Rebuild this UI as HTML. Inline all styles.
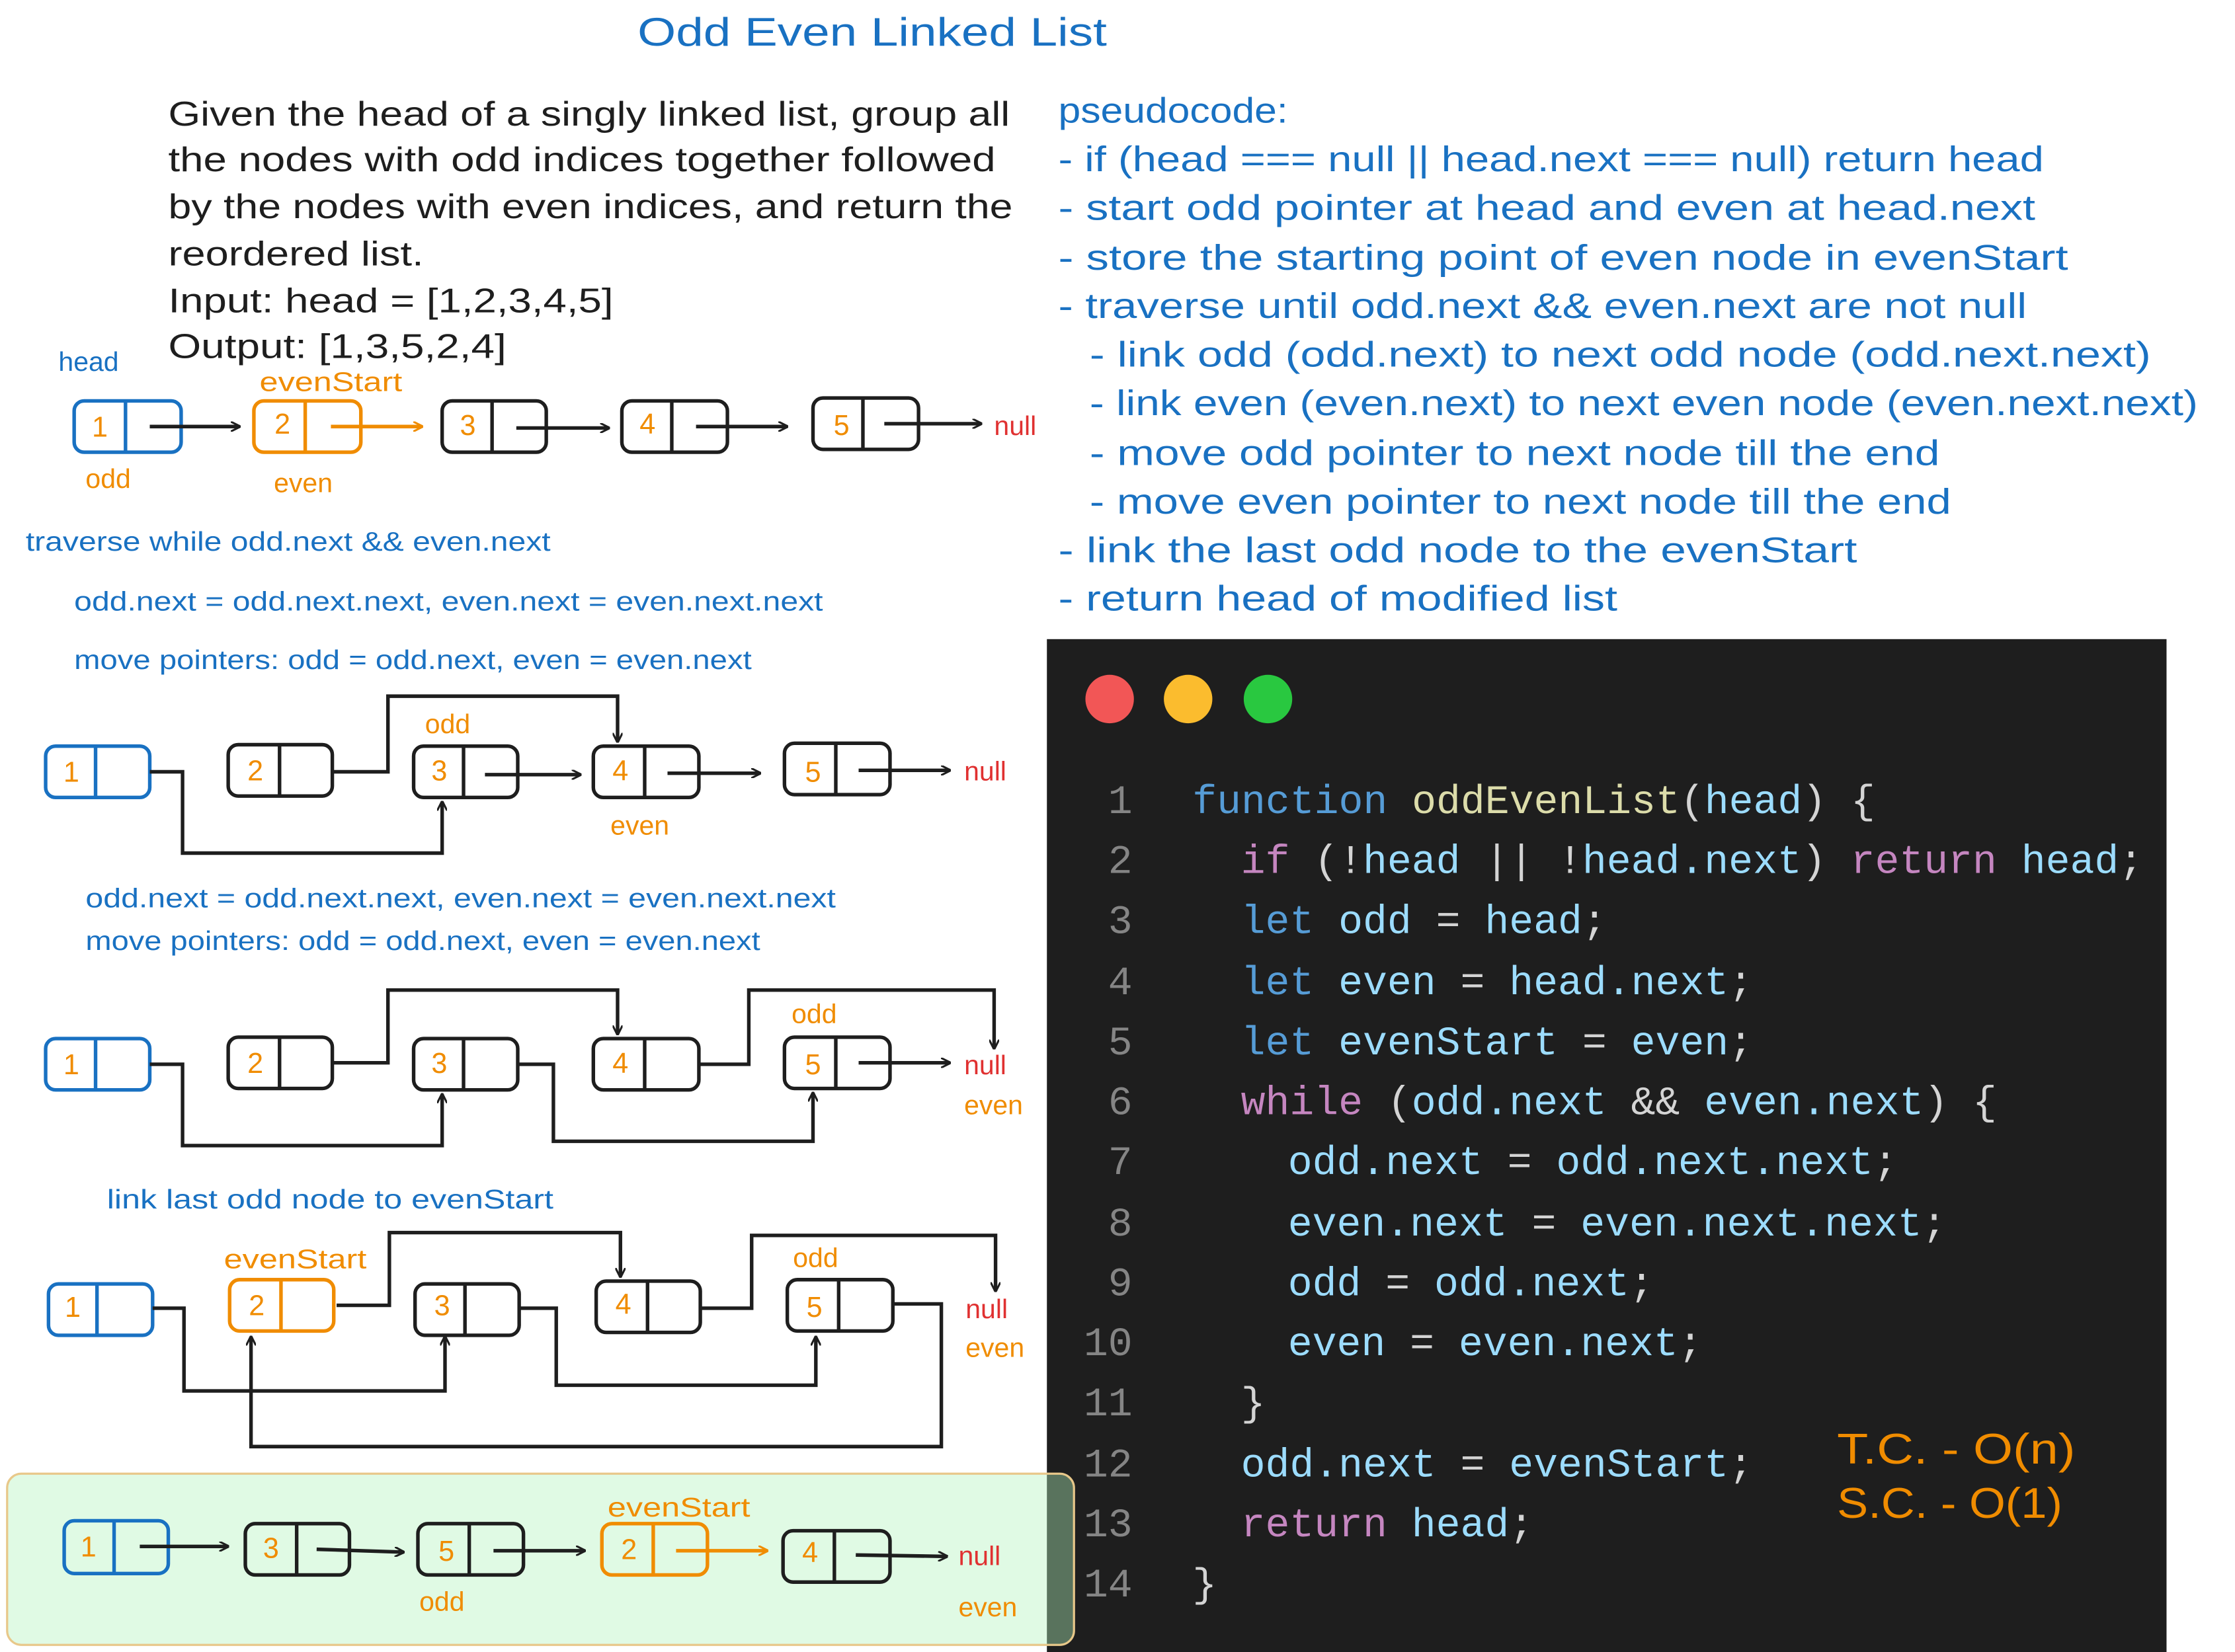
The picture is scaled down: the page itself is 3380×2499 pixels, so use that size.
<!DOCTYPE html>
<html><head><meta charset="utf-8"><style>
html,body{margin:0;padding:0;background:#fff;}
svg{display:block;}
.h{font-family:"Liberation Sans",sans-serif;}
.m{font-family:"Liberation Mono",monospace;}
</style></head><body>
<svg width="3380" height="2499" viewBox="0 0 1567 1158" preserveAspectRatio="none" xmlns="http://www.w3.org/2000/svg">
<defs>
<marker id="a" viewBox="0 0 10 10" refX="9" refY="5" markerWidth="7" markerHeight="7" orient="auto-start-reverse" markerUnits="userSpaceOnUse"><path d="M0,0 L10,5 L0,10" fill="none" stroke="#1e1e1e" stroke-width="2"/></marker>
<marker id="o" viewBox="0 0 10 10" refX="9" refY="5" markerWidth="7" markerHeight="7" orient="auto" markerUnits="userSpaceOnUse"><path d="M0,0 L10,5 L0,10" fill="none" stroke="#f08c00" stroke-width="2"/></marker>
</defs>
<rect width="1567" height="1158" fill="#fff"/>
<text x="447" y="32" class="h" font-size="28" fill="#1971c2" textLength="329" lengthAdjust="spacingAndGlyphs">Odd Even Linked List</text>
<g class="h" font-size="24" fill="#1e1e1e">
<text x="118" y="88" textLength="590" lengthAdjust="spacingAndGlyphs">Given the head of a singly linked list, group all</text>
<text x="118" y="120" textLength="580" lengthAdjust="spacingAndGlyphs">the nodes with odd indices together followed</text>
<text x="118" y="153" textLength="592" lengthAdjust="spacingAndGlyphs">by the nodes with even indices, and return the</text>
<text x="118" y="186" textLength="179" lengthAdjust="spacingAndGlyphs">reordered list.</text>
<text x="118" y="219" textLength="312" lengthAdjust="spacingAndGlyphs">Input: head = [1,2,3,4,5]</text>
<text x="118" y="251" textLength="237" lengthAdjust="spacingAndGlyphs">Output: [1,3,5,2,4]</text>
</g>
<g class="h" font-size="25" fill="#1971c2">
<text x="742" y="86" textLength="161" lengthAdjust="spacingAndGlyphs">pseudocode:</text>
<text x="742" y="120" textLength="691" lengthAdjust="spacingAndGlyphs">- if (head === null || head.next === null) return head</text>
<text x="742" y="154" textLength="685" lengthAdjust="spacingAndGlyphs">- start odd pointer at head and even at head.next</text>
<text x="742" y="189" textLength="708" lengthAdjust="spacingAndGlyphs">- store the starting point of even node in evenStart</text>
<text x="742" y="223" textLength="679" lengthAdjust="spacingAndGlyphs">- traverse until odd.next &amp;&amp; even.next are not null</text>
<text x="764" y="257" textLength="744" lengthAdjust="spacingAndGlyphs">- link odd (odd.next) to next odd node (odd.next.next)</text>
<text x="764" y="291" textLength="777" lengthAdjust="spacingAndGlyphs">- link even (even.next) to next even node (even.next.next)</text>
<text x="764" y="326" textLength="596" lengthAdjust="spacingAndGlyphs">- move odd pointer to next node till the end</text>
<text x="764" y="360" textLength="604" lengthAdjust="spacingAndGlyphs">- move even pointer to next node till the end</text>
<text x="742" y="394" textLength="560" lengthAdjust="spacingAndGlyphs">- link the last odd node to the evenStart</text>
<text x="742" y="428" textLength="392" lengthAdjust="spacingAndGlyphs">- return head of modified list</text>
</g>

<!-- code panel -->
<rect x="734" y="448" width="785" height="712" fill="#1e1e1e"/>
<circle cx="778" cy="490" r="17" fill="#f25656"/>
<circle cx="833" cy="490" r="17" fill="#fbbc2e"/>
<circle cx="889" cy="490" r="17" fill="#29c840"/>
<g class="m" font-size="28.5" fill="#858585" text-anchor="end">
<text x="794" y="570">1</text><text x="794" y="612">2</text><text x="794" y="654">3</text><text x="794" y="697">4</text><text x="794" y="739">5</text><text x="794" y="781">6</text><text x="794" y="823">7</text><text x="794" y="866">8</text><text x="794" y="908">9</text><text x="794" y="950">10</text><text x="794" y="992">11</text><text x="794" y="1035">12</text><text x="794" y="1077">13</text><text x="794" y="1119">14</text>
</g>
<g class="m" font-size="28.5" fill="#9cdcfe" xml:space="preserve">
<text x="836" y="570"><tspan fill="#569cd6">function</tspan> <tspan fill="#dcdcaa">oddEvenList</tspan><tspan fill="#d4d4d4">(</tspan>head<tspan fill="#d4d4d4">) {</tspan></text>
<text x="870" y="612"><tspan fill="#c586c0">if</tspan><tspan fill="#d4d4d4"> (!</tspan>head <tspan fill="#d4d4d4">|| !</tspan>head.next<tspan fill="#d4d4d4">) </tspan><tspan fill="#c586c0">return</tspan> head<tspan fill="#d4d4d4">;</tspan></text>
<text x="870" y="654"><tspan fill="#569cd6">let</tspan> odd <tspan fill="#d4d4d4">=</tspan> head<tspan fill="#d4d4d4">;</tspan></text>
<text x="870" y="697"><tspan fill="#569cd6">let</tspan> even <tspan fill="#d4d4d4">=</tspan> head.next<tspan fill="#d4d4d4">;</tspan></text>
<text x="870" y="739"><tspan fill="#569cd6">let</tspan> evenStart <tspan fill="#d4d4d4">=</tspan> even<tspan fill="#d4d4d4">;</tspan></text>
<text x="870" y="781"><tspan fill="#c586c0">while</tspan><tspan fill="#d4d4d4"> (</tspan>odd.next <tspan fill="#d4d4d4">&amp;&amp;</tspan> even.next<tspan fill="#d4d4d4">) {</tspan></text>
<text x="903" y="823">odd.next <tspan fill="#d4d4d4">=</tspan> odd.next.next<tspan fill="#d4d4d4">;</tspan></text>
<text x="903" y="866">even.next <tspan fill="#d4d4d4">=</tspan> even.next.next<tspan fill="#d4d4d4">;</tspan></text>
<text x="903" y="908">odd <tspan fill="#d4d4d4">=</tspan> odd.next<tspan fill="#d4d4d4">;</tspan></text>
<text x="903" y="950">even <tspan fill="#d4d4d4">=</tspan> even.next<tspan fill="#d4d4d4">;</tspan></text>
<text x="870" y="992" fill="#d4d4d4">}</text>
<text x="870" y="1035">odd.next <tspan fill="#d4d4d4">=</tspan> evenStart<tspan fill="#d4d4d4">;</tspan></text>
<text x="870" y="1077"><tspan fill="#c586c0">return</tspan> head<tspan fill="#d4d4d4">;</tspan></text>
<text x="836" y="1119" fill="#d4d4d4">}</text>
</g>
<text x="1288" y="1026" class="h" font-size="30" fill="#f08c00" textLength="167" lengthAdjust="spacingAndGlyphs">T.C. - O(n)</text>
<text x="1288" y="1064" class="h" font-size="30" fill="#f08c00" textLength="158" lengthAdjust="spacingAndGlyphs">S.C. - O(1)</text>

<!-- green box -->
<rect x="5" y="1033" width="748" height="120" rx="10" fill="#b2f2bb" fill-opacity="0.4" stroke="#e8c88a" stroke-width="1.5"/>

<g fill="none" stroke-width="2.5">
<!-- row1 -->
<g stroke="#1971c2"><rect x="52" y="281" width="75" height="36" rx="7"/><line x1="88" y1="281" x2="88" y2="317"/></g>
<g stroke="#f08c00"><rect x="178" y="281" width="75" height="36" rx="7"/><line x1="214" y1="281" x2="214" y2="317"/></g>
<g stroke="#1e1e1e"><rect x="310" y="281" width="73" height="36" rx="7"/><line x1="345" y1="281" x2="345" y2="317"/>
<rect x="436" y="281" width="74" height="36" rx="7"/><line x1="471" y1="281" x2="471" y2="317"/>
<rect x="570" y="279" width="74" height="36" rx="7"/><line x1="605" y1="279" x2="605" y2="315"/>
<line x1="105" y1="299" x2="168" y2="299" marker-end="url(#a)"/>
<line x1="362" y1="300" x2="427" y2="300" marker-end="url(#a)"/>
<line x1="488" y1="299" x2="552" y2="299" marker-end="url(#a)"/>
<line x1="620" y1="297" x2="688" y2="297" marker-end="url(#a)"/></g>
<line x1="232" y1="299" x2="296" y2="299" stroke="#f08c00" marker-end="url(#o)"/>

<!-- row2 -->
<g stroke="#1971c2"><rect x="32" y="523" width="73" height="36" rx="7"/><line x1="67" y1="523" x2="67" y2="559"/></g>
<g stroke="#1e1e1e">
<rect x="160" y="522" width="73" height="36" rx="7"/><line x1="196" y1="522" x2="196" y2="558"/>
<rect x="290" y="523" width="73" height="36" rx="7"/><line x1="325" y1="523" x2="325" y2="559"/>
<rect x="416" y="523" width="74" height="36" rx="7"/><line x1="452" y1="523" x2="452" y2="559"/>
<rect x="550" y="521" width="74" height="36" rx="7"/><line x1="586" y1="521" x2="586" y2="557"/>
<path d="M233,541 H272 V488 H433 V520" marker-end="url(#a)"/>
<path d="M105,541 H128 V598 H310 V562" marker-end="url(#a)"/>
<line x1="340" y1="543" x2="407" y2="543" marker-end="url(#a)"/>
<line x1="468" y1="542" x2="533" y2="542" marker-end="url(#a)"/>
<line x1="602" y1="540" x2="666" y2="540" marker-end="url(#a)"/>
</g>

<!-- row3 -->
<g stroke="#1971c2"><rect x="32" y="728" width="73" height="36" rx="7"/><line x1="67" y1="728" x2="67" y2="764"/></g>
<g stroke="#1e1e1e">
<rect x="160" y="727" width="73" height="36" rx="7"/><line x1="196" y1="727" x2="196" y2="763"/>
<rect x="290" y="728" width="73" height="36" rx="7"/><line x1="325" y1="728" x2="325" y2="764"/>
<rect x="416" y="728" width="74" height="36" rx="7"/><line x1="452" y1="728" x2="452" y2="764"/>
<rect x="550" y="727" width="74" height="36" rx="7"/><line x1="586" y1="727" x2="586" y2="763"/>
<path d="M105,746 H128 V803 H310 V767" marker-end="url(#a)"/>
<path d="M233,745 H272 V694 H433 V725" marker-end="url(#a)"/>
<path d="M363,746 H388 V800 H570 V766" marker-end="url(#a)"/>
<path d="M490,746 H525 V694 H697 V735" marker-end="url(#a)"/>
<line x1="602" y1="745" x2="666" y2="745" marker-end="url(#a)"/>
</g>

<!-- row4 -->
<g stroke="#1971c2"><rect x="34" y="900" width="73" height="36" rx="7"/><line x1="68" y1="900" x2="68" y2="936"/></g>
<g stroke="#f08c00"><rect x="161" y="897" width="73" height="36" rx="7"/><line x1="197" y1="897" x2="197" y2="933"/></g>
<g stroke="#1e1e1e">
<rect x="291" y="900" width="73" height="36" rx="7"/><line x1="326" y1="900" x2="326" y2="936"/>
<rect x="418" y="898" width="73" height="36" rx="7"/><line x1="454" y1="898" x2="454" y2="934"/>
<rect x="552" y="897" width="74" height="36" rx="7"/><line x1="588" y1="897" x2="588" y2="933"/>
<path d="M236,915 H273 V864 H435 V895" marker-end="url(#a)"/>
<path d="M107,917 H129 V975 H312 V937" marker-end="url(#a)"/>
<path d="M364,917 H390 V971 H572 V937" marker-end="url(#a)"/>
<path d="M491,917 H527 V866 H698 V905" marker-end="url(#a)"/>
<path d="M626,914 H660 V1014 H176 V937" marker-end="url(#a)"/>
</g>

<!-- row5 -->
<g stroke="#1971c2"><rect x="45" y="1066" width="73" height="37" rx="7"/><line x1="80" y1="1066" x2="80" y2="1103"/></g>
<g stroke="#f08c00"><rect x="422" y="1068" width="74" height="36" rx="7"/><line x1="458" y1="1068" x2="458" y2="1104"/></g>
<g stroke="#1e1e1e">
<rect x="172" y="1068" width="73" height="36" rx="7"/><line x1="208" y1="1068" x2="208" y2="1104"/>
<rect x="293" y="1068" width="74" height="36" rx="7"/><line x1="329" y1="1068" x2="329" y2="1104"/>
<rect x="549" y="1073" width="75" height="36" rx="7"/><line x1="585" y1="1073" x2="585" y2="1109"/>
<line x1="98" y1="1084" x2="160" y2="1084" marker-end="url(#a)"/>
<line x1="222" y1="1086" x2="283" y2="1088" marker-end="url(#a)"/>
<line x1="346" y1="1087" x2="410" y2="1087" marker-end="url(#a)"/>
<line x1="600" y1="1090" x2="664" y2="1091" marker-end="url(#a)"/>
</g>
<line x1="474" y1="1087" x2="538" y2="1087" stroke="#f08c00" marker-end="url(#o)"/>
</g>

<!-- node numbers -->
<g class="h" font-size="20" fill="#f08c00" text-anchor="middle">
<text x="70" y="306">1</text><text x="198" y="304">2</text><text x="328" y="305">3</text><text x="454" y="304">4</text><text x="590" y="305">5</text>
<text x="50" y="548">1</text><text x="179" y="547">2</text><text x="308" y="547">3</text><text x="435" y="547">4</text><text x="570" y="548">5</text>
<text x="50" y="753">1</text><text x="179" y="752">2</text><text x="308" y="752">3</text><text x="435" y="752">4</text><text x="570" y="753">5</text>
<text x="51" y="923">1</text><text x="180" y="922">2</text><text x="310" y="922">3</text><text x="437" y="921">4</text><text x="571" y="923">5</text>
<text x="62" y="1091">1</text><text x="190" y="1092">3</text><text x="313" y="1094">5</text><text x="441" y="1093">2</text><text x="568" y="1095">4</text>
</g>

<!-- labels -->
<g class="h" font-size="19">
<text x="41" y="260" fill="#1971c2">head</text>
<text x="182" y="274" fill="#f08c00" textLength="100" lengthAdjust="spacingAndGlyphs">evenStart</text>
<text x="60" y="342" fill="#f08c00">odd</text>
<text x="192" y="345" fill="#f08c00">even</text>
<text x="697" y="305" fill="#e03131">null</text>
<text x="18" y="386" fill="#1971c2" textLength="368" lengthAdjust="spacingAndGlyphs">traverse while odd.next &amp;&amp; even.next</text>
<text x="52" y="428" fill="#1971c2" textLength="525" lengthAdjust="spacingAndGlyphs">odd.next = odd.next.next, even.next = even.next.next</text>
<text x="52" y="469" fill="#1971c2" textLength="475" lengthAdjust="spacingAndGlyphs">move pointers: odd = odd.next, even = even.next</text>
<text x="298" y="514" fill="#f08c00">odd</text>
<text x="428" y="585" fill="#f08c00">even</text>
<text x="676" y="547" fill="#e03131">null</text>
<text x="60" y="636" fill="#1971c2" textLength="526" lengthAdjust="spacingAndGlyphs">odd.next = odd.next.next, even.next = even.next.next</text>
<text x="60" y="666" fill="#1971c2" textLength="473" lengthAdjust="spacingAndGlyphs">move pointers: odd = odd.next, even = even.next</text>
<text x="555" y="717" fill="#f08c00">odd</text>
<text x="676" y="753" fill="#e03131">null</text>
<text x="676" y="781" fill="#f08c00">even</text>
<text x="75" y="847" fill="#1971c2" textLength="313" lengthAdjust="spacingAndGlyphs">link last odd node to evenStart</text>
<text x="157" y="889" fill="#f08c00" textLength="100" lengthAdjust="spacingAndGlyphs">evenStart</text>
<text x="556" y="888" fill="#f08c00">odd</text>
<text x="677" y="924" fill="#e03131">null</text>
<text x="677" y="951" fill="#f08c00">even</text>
<text x="426" y="1063" fill="#f08c00" textLength="100" lengthAdjust="spacingAndGlyphs">evenStart</text>
<text x="294" y="1129" fill="#f08c00">odd</text>
<text x="672" y="1097" fill="#e03131">null</text>
<text x="672" y="1133" fill="#f08c00">even</text>
</g>
</svg>
</body></html>
